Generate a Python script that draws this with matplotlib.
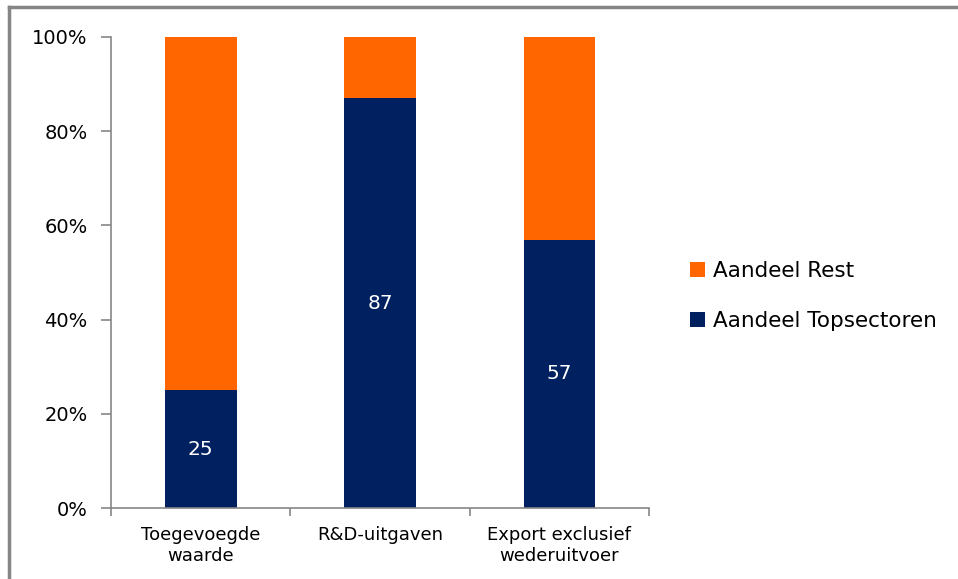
import matplotlib.pyplot as plt
from matplotlib.lines import Line2D
import numpy as np

categories = ["Toegevoegde\nwaarde", "R&D-uitgaven", "Export exclusief\nwederuitvoer"]
aandeel_top = [25, 87, 57]
aandeel_rest = [75, 13, 43]
yticks = [0, 20, 40, 60, 80, 100]

orange = "#FF6600"
navy = "#002060"
grey = "#868686"

fig = plt.figure(figsize=(9.58, 5.79), dpi=100)
ax = fig.add_axes([0.1159, 0.1226, 0.5616, 0.8135])

x = np.arange(len(categories))
ax.bar(x, aandeel_top, width=0.4, color=navy, label="Aandeel Topsectoren")
ax.bar(x, aandeel_rest, width=0.4, bottom=aandeel_top, color=orange, label="Aandeel Rest")

# white value labels in the middle of the dark bars
for xi, v in zip(x, aandeel_top):
    ax.text(xi, v / 2, f"{v}", ha="center", va="center", color="white", fontsize=14.5)

ax.set_xlim(-0.5, len(categories) - 0.5)
ax.set_ylim(0, 100)
ax.set_yticks(yticks)
ax.set_yticklabels([f"{t}%" for t in yticks], fontsize=14)

# category labels sit between the tick marks
ax.set_xticks(np.arange(len(categories) + 1) - 0.5)
ax.set_xticklabels([])
ax.set_xticks(x, minor=True)
ax.set_xticklabels(categories, minor=True, fontsize=13, linespacing=1.2)
ax.tick_params(axis="x", which="minor", length=0, pad=13)
ax.tick_params(axis="x", which="major", length=6, color=grey, width=1.2)
ax.tick_params(axis="y", length=7, color=grey, width=1.2, pad=10)

for s in ["top", "right"]:
    ax.spines[s].set_visible(False)
for s in ["left", "bottom"]:
    ax.spines[s].set_color(grey)
    ax.spines[s].set_linewidth(1.2)

handles, labels = ax.get_legend_handles_labels()
ax.legend(handles[::-1], labels[::-1], loc="center left", bbox_to_anchor=(1.04, 0.45),
          frameon=False, fontsize=15.5, handlelength=0.7, handleheight=0.7,
          handletextpad=0.35, labelspacing=1.4)

# grey frame on the top and left edges
fig.add_artist(Line2D([9 / 958, 9 / 958], [0, 1 - 7 / 579], transform=fig.transFigure,
                      color=grey, linewidth=2.5))
fig.add_artist(Line2D([9 / 958, 1], [1 - 7 / 579, 1 - 7 / 579], transform=fig.transFigure,
                      color=grey, linewidth=2.5))

fig.savefig("out.png", dpi=100)
